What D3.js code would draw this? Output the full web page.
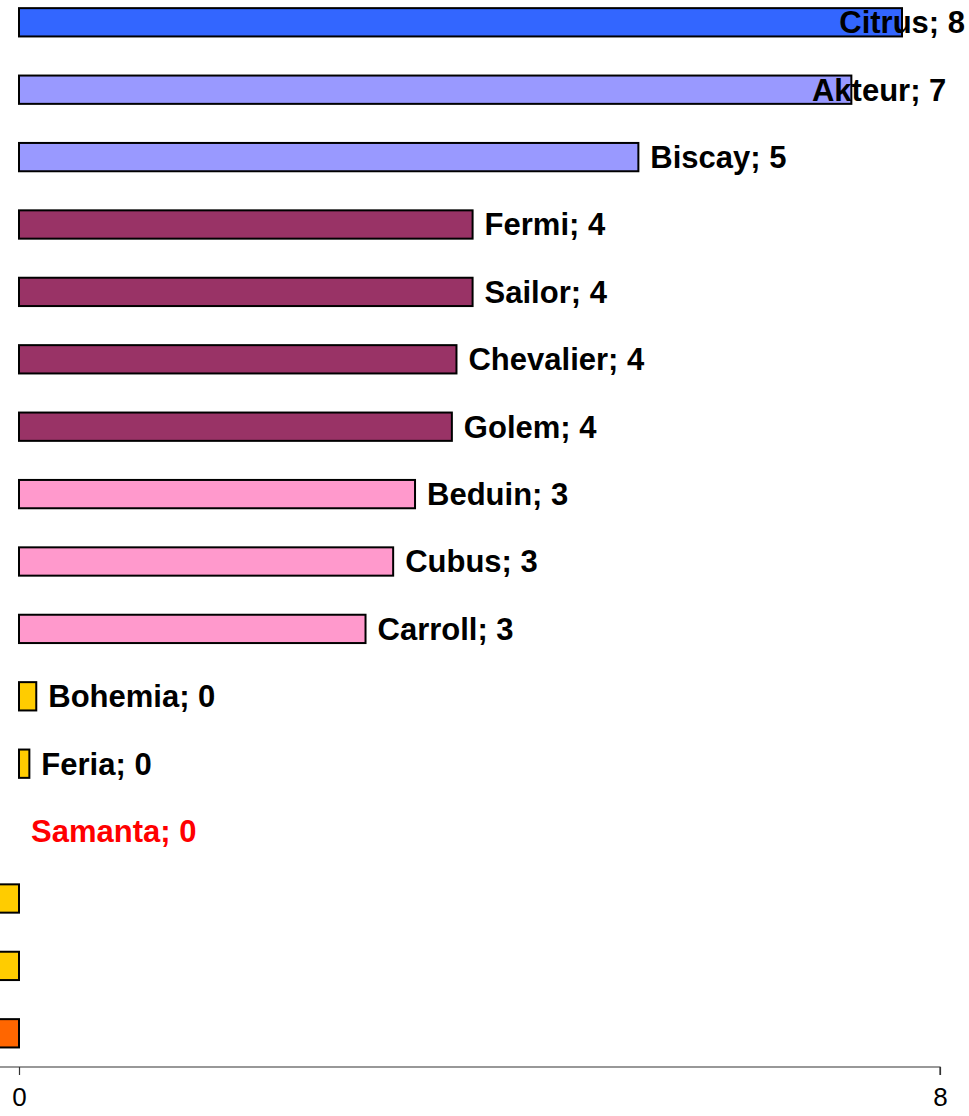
<!DOCTYPE html>
<html>
<head>
<meta charset="utf-8">
<script src="https://cdn.jsdelivr.net/npm/d3@7"></script>
<style>
  html, body { margin: 0; padding: 0; background: #ffffff; }
  svg { display: block; }
</style>
</head>
<body>
<svg id="chart" width="969" height="1116"></svg>
<script>
// categories, top to bottom
const names = [
  'Citrus', 'Akteur', 'Biscay', 'Fermi', 'Sailor', 'Chevalier', 'Golem',
  'Beduin', 'Cubus', 'Carroll', 'Bohemia', 'Feria', 'Samanta',
  'Row14', 'Row15', 'Row16'
];
// values
const values = [
  7.67, 7.23, 5.38, 3.94, 3.94, 3.80, 3.76,
  3.44, 3.25, 3.01, 0.15, 0.09, 0,
  -0.3, -0.3, -0.3
];
const fills = [
  '#3366ff', '#9999ff', '#9999ff', '#993366', '#993366', '#993366', '#993366',
  '#ff99cc', '#ff99cc', '#ff99cc', '#ffcc00', '#ffcc00', '#ffcc00',
  '#ffcc00', '#ffcc00', '#ff6600'
];
const tickValues = [0, 8];

const data = names.map((n, i) => ({ name: n, value: values[i], fill: fills[i] }));

const svg = d3.select('#chart');
const W = 969;

// plot area: 0 sits at x=19, 8 at x=940; lower end runs past the left edge
const xMin = -0.3, xMax = 8;
const unit = (940 - 19) / 8;
const x = d3.scaleLinear()
  .domain([xMin, xMax])
  .range([19 + xMin * unit, 940]);

const axisY = 1067;
const step = 67.4;
const y = d3.scaleBand()
  .domain(names)
  .range([axisY - names.length * step, axisY])
  .paddingInner(0.58)
  .paddingOuter(0.29);

// bars
svg.append('g')
  .selectAll('rect')
  .data(data.filter(d => d.value !== 0))
  .join('rect')
  .attr('x', d => x(Math.min(0, d.value)))
  .attr('y', d => y(d.name))
  .attr('width', d => Math.abs(x(d.value) - x(0)))
  .attr('height', y.bandwidth())
  .attr('fill', d => d.fill)
  .attr('stroke', '#000')
  .attr('stroke-width', 2);

// labels "Name; value" at the bar end (negative rows would fall off the left edge)
const labels = svg.append('g')
  .selectAll('text')
  .data(data.filter(d => d.value >= 0))
  .join('text')
  .attr('y', d => y(d.name) + y.bandwidth() / 2)
  .attr('dy', '0.35em')
  .style('font-family', '"Liberation Sans", Arial, sans-serif')
  .style('font-size', '31px')
  .style('font-weight', 'bold')
  .attr('fill', d => d.value === 0 ? '#ff0000' : '#000')
  .text(d => `${d.name}; ${Math.round(d.value)}`);

// push labels that would run off the right edge back inside
labels.attr('x', function(d) {
  const w = this.getComputedTextLength();
  const start = x(d.value) + 12;
  if (start + w <= W - 4) return start;
  // the longer overflow gets pulled back further, as in the source
  return Math.min(W - 4 - w, x(d.value) + 95 - w);
});

// x axis
const axis = svg.append('g')
  .attr('transform', `translate(0,${axisY})`)
  .call(d3.axisBottom(x).tickValues(tickValues).tickSize(8).tickPadding(13).tickFormat(d3.format('d')));
axis.select('.domain').attr('stroke', '#333').attr('stroke-width', 1.2)
  .attr('d', `M0,0H${x(xMax)}V8`);
axis.selectAll('.tick line').attr('stroke', '#333').attr('stroke-width', 1.2);
axis.selectAll('.tick text')
  .style('font-family', '"Liberation Sans", Arial, sans-serif')
  .style('font-size', '26px')
  .attr('fill', '#000');
</script>
</body>
</html>
